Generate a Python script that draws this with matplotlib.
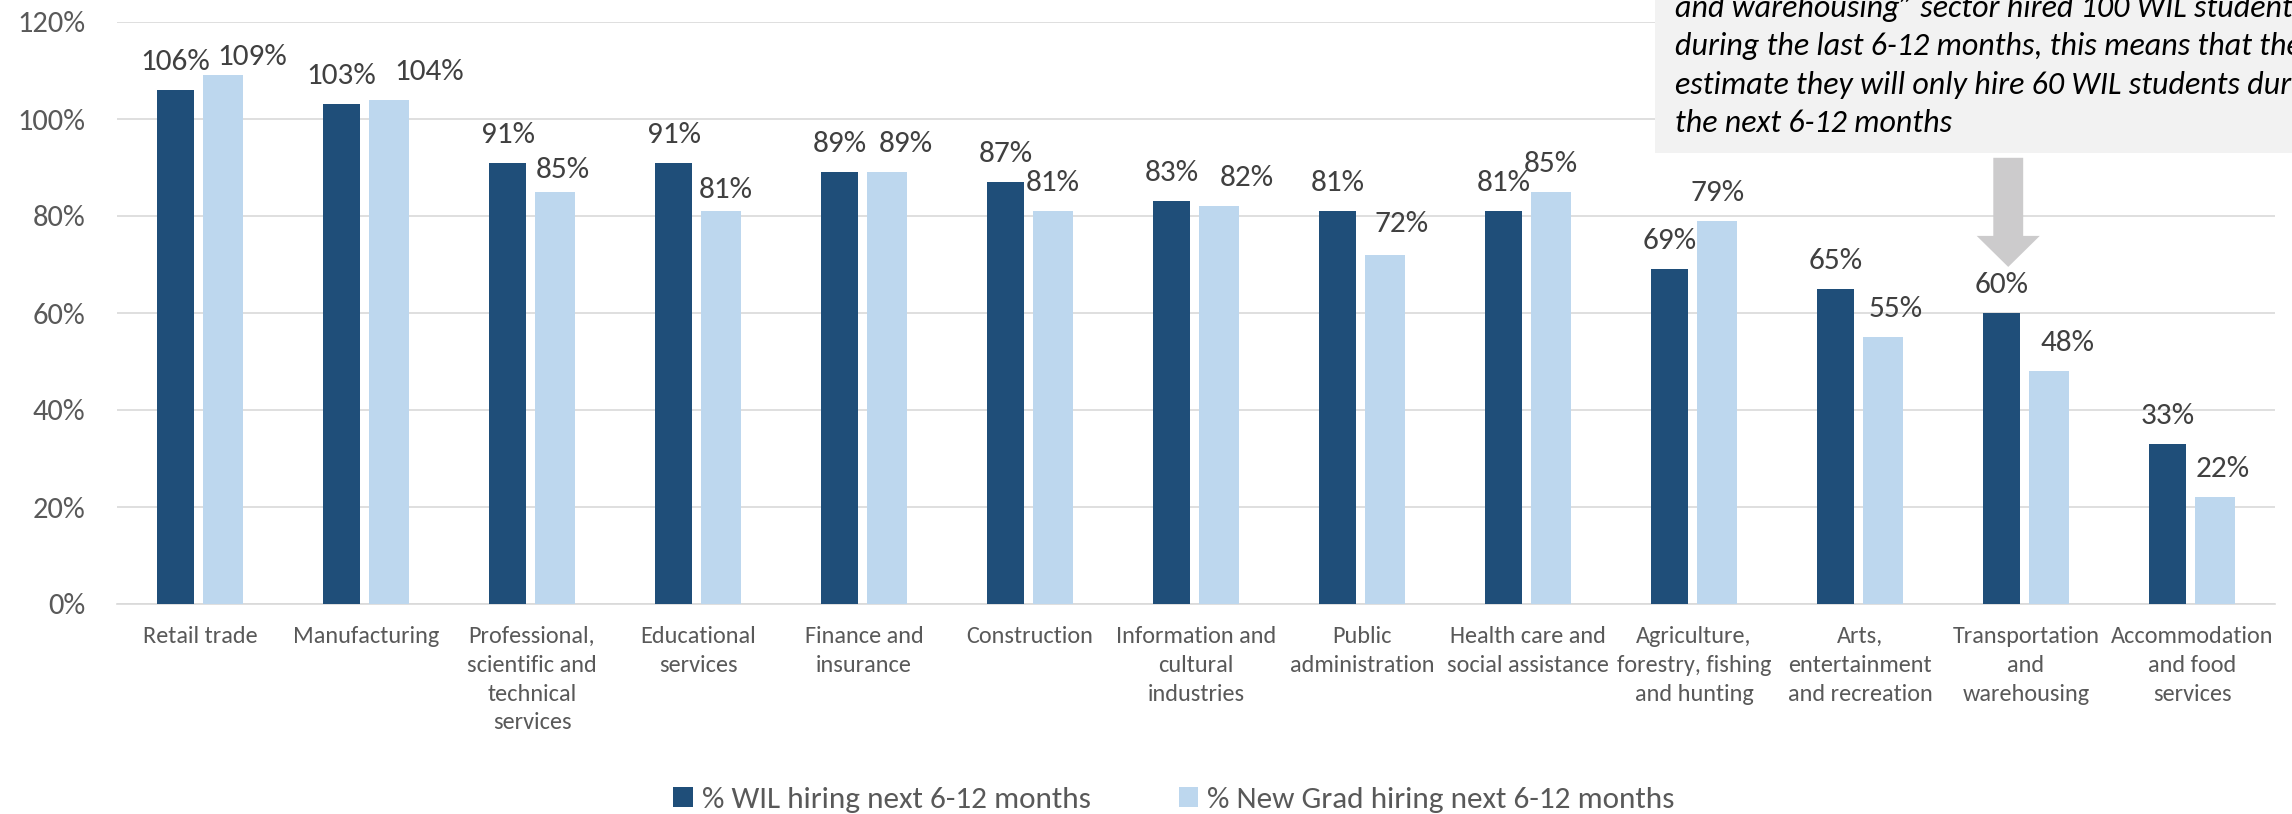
import matplotlib
matplotlib.use("Agg")
import matplotlib.pyplot as plt
from matplotlib import font_manager
from matplotlib.patches import Rectangle, FancyArrow
import numpy as np

sectors = [
    "Retail trade",
    "Manufacturing",
    "Professional,\nscientific and\ntechnical\nservices",
    "Educational\nservices",
    "Finance and\ninsurance",
    "Construction",
    "Information and\ncultural\nindustries",
    "Public\nadministration",
    "Health care and\nsocial assistance",
    "Agriculture,\nforestry, fishing\nand hunting",
    "Arts,\nentertainment\nand recreation",
    "Transportation\nand\nwarehousing",
    "Accommodation\nand food\nservices",
]
wil_next = [106, 103, 91, 91, 89, 87, 83, 81, 81, 69, 65, 60, 33]
grad_next = [109, 104, 85, 81, 89, 81, 82, 72, 85, 79, 55, 48, 22]
yticks = [0, 20, 40, 60, 80, 100, 120]

note_lines = [
    "and warehousing\u201d sector hired 100 WIL students",
    "during the last 6-12 months, this means that they",
    "estimate they will only hire 60 WIL students during",
    "the next 6-12 months",
]

# light-blue labels get pushed aside where they would collide (pixels)
grad_dx = [29, 40, 8, 5, 19, 0, 28, 16, 0, 0, 13, 18, 8]
grad_dy = [-10, 0, -6, -7, 0, 0, 0, 3, 0, 0, 0, 0, 0]

DARK = "#1f4e79"
LIGHT = "#bdd7ee"
GRID = "#d9d9d9"


def pick_font(names):
    have = {f.name for f in font_manager.fontManager.ttflist}
    for n in names:
        if n in have:
            return n
    return "DejaVu Sans"


font = pick_font(["Carlito", "Liberation Sans Narrow", "Open Sans", "DejaVu Sans"])
plt.rcParams["font.family"] = [font, "DejaVu Sans"]

W, H = 2292, 814
fig = plt.figure(figsize=(W / 100, H / 100), dpi=100)
ax = fig.add_axes([117 / W, (H - 604) / H, 2158 / W, 582 / H])

x = np.arange(len(sectors))
xd = x - 0.147
xl = x + 0.139
ax.bar(xd, wil_next, width=0.225, color=DARK, zorder=2,
       label="% WIL hiring next 6-12 months")
ax.bar(xl, grad_next, width=0.24, color=LIGHT, zorder=2,
       label="% New Grad hiring next 6-12 months")

px = 0.72  # points per pixel at 100 dpi
for i in range(len(sectors)):
    ax.annotate(f"{wil_next[i]}%", (xd[i], wil_next[i]), xytext=(0, 20 * px),
                textcoords="offset points", ha="center", va="baseline",
                fontsize=22.5, color="#404040", zorder=3)
    ax.annotate(f"{grad_next[i]}%", (xl[i], grad_next[i]),
                xytext=(grad_dx[i] * px, (20 + grad_dy[i]) * px),
                textcoords="offset points", ha="center", va="baseline",
                fontsize=22.5, color="#404040", zorder=3)

ax.set_xlim(-0.5, len(sectors) - 0.5)
ax.set_ylim(0, 120)
ax.set_yticks(yticks)
ax.set_yticklabels([f"{t}%" for t in yticks], fontsize=22, color="#595959")
ax.set_xticks(x)
ax.set_xticklabels(sectors, fontsize=17.5, color="#595959", linespacing=1.45)
ax.tick_params(axis="both", length=0)
ax.tick_params(axis="y", pad=23)
ax.tick_params(axis="x", pad=16)
ax.grid(axis="y", color=GRID, linewidth=1.2, zorder=0)
for s in ["top", "right", "left"]:
    ax.spines[s].set_visible(False)
ax.spines["bottom"].set_color(GRID)
ax.spines["bottom"].set_linewidth(1.2)
ax.spines["bottom"].set_zorder(1)

# callout arrow pointing at the transportation WIL figure
ax.add_patch(FancyArrow(xd[11] + 0.04, 92.0, 0, -22.5, width=0.18, head_width=0.38,
                        head_length=6.4, length_includes_head=True,
                        color="#cccbcc", lw=0, zorder=4, clip_on=False))

# note box in the top-right corner
fig.add_artist(Rectangle((1655 / W, (H - 153) / H), 1, 1, transform=fig.transFigure,
                         facecolor="#f2f2f2", edgecolor="none", zorder=5))
for k, line in enumerate(note_lines):
    fig.text(1675 / W, (H - (17 + 38.5 * k)) / H, line, fontsize=23,
             style="italic", color="black", va="baseline", ha="left", zorder=6)

fig.legend(loc="center", bbox_to_anchor=(1174 / W, 14 / H), ncol=2, frameon=False,
           fontsize=22.5, handlelength=0.62, handleheight=0.62, handletextpad=0.3,
           columnspacing=2.8, labelcolor="#595959")

fig.savefig("out.png", dpi=100)
